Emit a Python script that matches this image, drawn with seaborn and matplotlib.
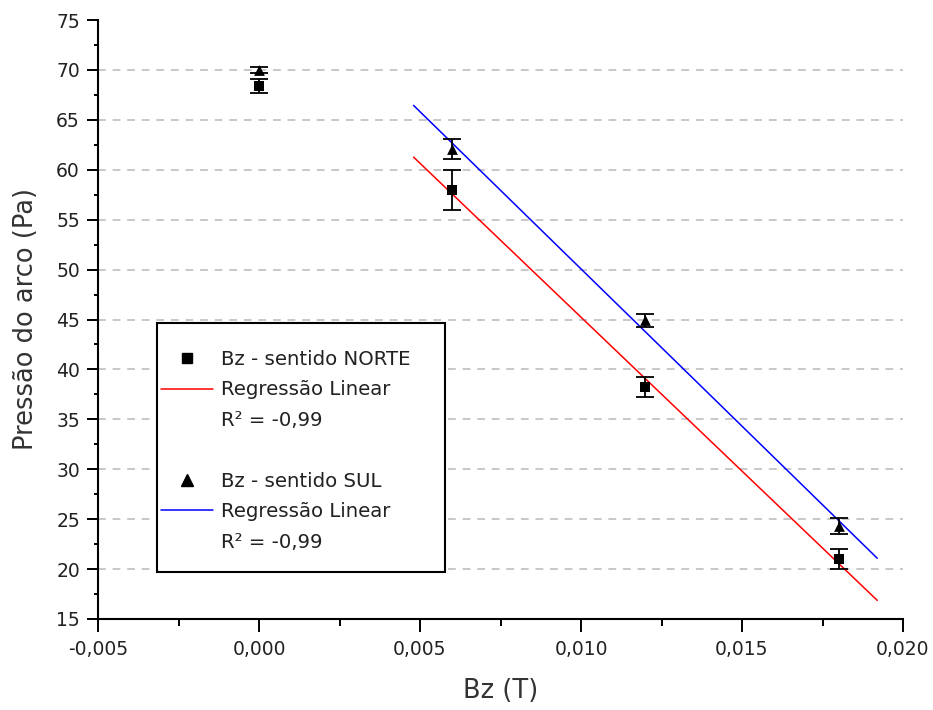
import numpy as np
import pandas as pd
import matplotlib
matplotlib.use("Agg")
import matplotlib.pyplot as plt
from matplotlib.lines import Line2D
from matplotlib.patches import Rectangle
from matplotlib.ticker import MultipleLocator, FuncFormatter
import seaborn as sns

# Magnetic field (T) and arc pressure (Pa) measurements
bz = [0.000, 0.006, 0.012, 0.018]
norte = [68.4, 58.0, 38.2, 21.0]
norte_err = [0.7, 2.0, 1.0, 1.0]
sul = [70.0, 62.1, 44.9, 24.3]
sul_err = [0.3, 1.0, 0.7, 0.8]

# Range over which the fitted lines are drawn
fit_range = [0.0048, 0.0192]
r2_text = "R² = -0,99"

sns.set_theme(style="white")
plt.rcParams["font.family"] = ["DejaVu Sans"]

fig = plt.figure(figsize=(9.33, 7.10), dpi=100)
ax = fig.add_axes([98 / 933, 91 / 710, 805 / 933, 599 / 710])

df = pd.DataFrame({"bz": bz, "norte": norte, "sul": sul})

# Linear fits on the points with applied field
fit_df = df[df["bz"] > 0]
xs = np.array(fit_range)
fits = {}
for col in ["norte", "sul"]:
    slope, icpt = np.polyfit(fit_df["bz"], fit_df[col], 1)
    fits[col] = pd.DataFrame({"bz": xs, "p": slope * xs + icpt})

sns.lineplot(data=fits["norte"], x="bz", y="p", color="#ff0000", lw=1.1, ax=ax, zorder=3)
sns.lineplot(data=fits["sul"], x="bz", y="p", color="#0000ff", lw=1.1, ax=ax, zorder=3)

ax.errorbar(bz, norte, yerr=norte_err, fmt="none", ecolor="black", elinewidth=1.3,
            capsize=6.5, capthick=1.3, zorder=4)
ax.errorbar(bz, sul, yerr=sul_err, fmt="none", ecolor="black", elinewidth=1.3,
            capsize=6.5, capthick=1.3, zorder=4)
sns.scatterplot(data=df, x="bz", y="norte", marker="s", s=45, color="black",
                edgecolor="black", linewidth=0, ax=ax, zorder=5)
sns.scatterplot(data=df, x="bz", y="sul", marker="^", s=60, color="black",
                edgecolor="black", linewidth=0, ax=ax, zorder=5)

ax.set_xlim(-0.005, 0.020)
ax.set_ylim(15, 75)
ax.xaxis.set_major_locator(MultipleLocator(0.005))
ax.xaxis.set_minor_locator(MultipleLocator(0.0025))
ax.yaxis.set_major_locator(MultipleLocator(5))
ax.yaxis.set_minor_locator(MultipleLocator(2.5))
ax.xaxis.set_major_formatter(FuncFormatter(lambda v, p: f"{v:.3f}".replace(".", ",").replace("-0,000", "0,000")))
ax.yaxis.set_major_formatter(FuncFormatter(lambda v, p: f"{v:.0f}"))

for side in ["top", "right"]:
    ax.spines[side].set_visible(False)
for side in ["left", "bottom"]:
    ax.spines[side].set_color("black")
    ax.spines[side].set_linewidth(1.5)

ax.tick_params(axis="y", which="major", direction="out", length=8, width=1.4,
               color="black", labelsize=13.5, labelcolor="#222222", pad=5, left=True)
ax.tick_params(axis="y", which="minor", direction="out", length=3, width=1.4,
               color="black", left=True)
ax.tick_params(axis="x", which="major", direction="out", length=9, width=1.4,
               color="black", labelsize=13.5, labelcolor="#222222", pad=6, bottom=True)
ax.tick_params(axis="x", which="minor", direction="out", length=5, width=1.4,
               color="black", bottom=True)

ax.set_xlabel("Bz (T)", fontsize=18.5, color="#333333", labelpad=14)
ax.set_ylabel("Pressão do arco (Pa)", fontsize=18.5, color="#333333", labelpad=12)

# Dashed horizontal grid, skipping the axis limits
ax.yaxis.grid(True, which="major", color="#c8c8c8", linestyle=(0, (4, 3.5)), lw=1.4)
ax.xaxis.grid(False)
ax.set_axisbelow(True)
fig.canvas.draw()
for val, gl in zip(ax.get_yticks(), ax.get_ygridlines()):
    if val <= 15 or val >= 75:
        gl.set_visible(False)

# Legend box
ax.add_patch(Rectangle((0.0733, 0.0785), 0.431 - 0.0733, 0.494 - 0.0785,
                       transform=ax.transAxes, facecolor="white", edgecolor="black",
                       lw=1.5, zorder=6))

blank = Line2D([], [], linestyle="none")
handles = [
    Line2D([], [], marker="s", color="black", linestyle="none", markersize=7),
    Line2D([], [], color="#ff0000", lw=1.1),
    blank,
    blank,
    Line2D([], [], marker="^", color="black", linestyle="none", markersize=8),
    Line2D([], [], color="#0000ff", lw=1.1),
    blank,
]
labels = ["Bz - sentido NORTE", "Regressão Linear", r2_text, "",
          "Bz - sentido SUL", "Regressão Linear", r2_text]
leg = ax.legend(handles, labels, loc="upper left", bbox_to_anchor=(0.078, 0.449),
                frameon=False, fontsize=14.2, handlelength=2.65, handletextpad=0.4,
                labelspacing=0.58, borderpad=0, borderaxespad=0)
leg.set_zorder(7)
for t in leg.get_texts():
    t.set_color("#222222")

fig.savefig("out.png", dpi=100, facecolor="white")
